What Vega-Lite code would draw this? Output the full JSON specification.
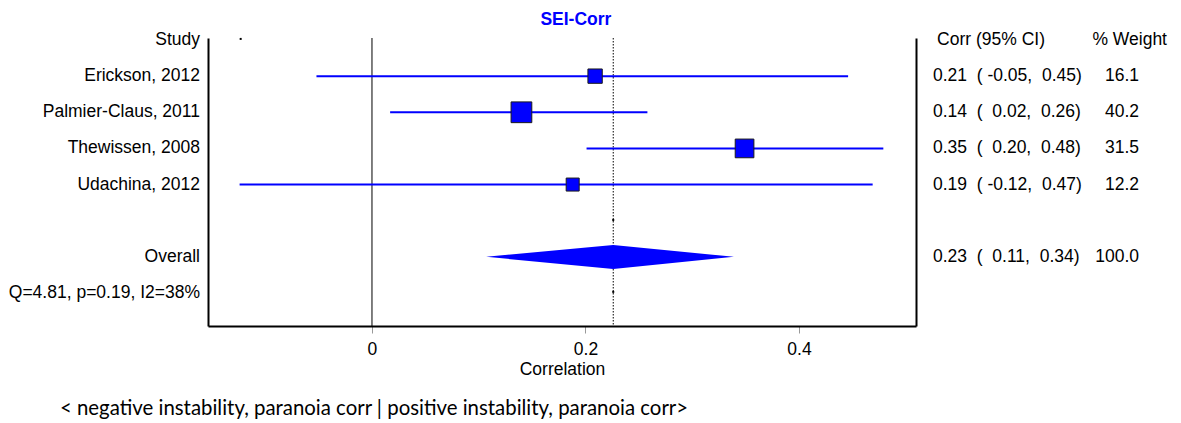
{
  "$schema": "https://vega.github.io/schema/vega-lite/v6.json",
  "width": 708,
  "height": 288,
  "autosize": {"type": "none"},
  "padding": {"left": 208, "top": 38, "right": 265, "bottom": 97},
  "background": "white",
  "config": {
    "view": {"stroke": null},
    "text": {"font": "Liberation Sans", "fontSize": 17.5, "color": "black"},
    "axis": {"labelFont": "Liberation Sans", "titleFont": "Liberation Sans"}
  },
  "datasets": {
    "studies": [
      {"row": 1, "study": "Erickson, 2012", "lo": -0.052, "est": 0.209, "hi": 0.446, "weight": 16.1},
      {"row": 2, "study": "Palmier-Claus, 2011", "lo": 0.017, "est": 0.140, "hi": 0.258, "weight": 40.2},
      {"row": 3, "study": "Thewissen, 2008", "lo": 0.201, "est": 0.349, "hi": 0.479, "weight": 31.5},
      {"row": 4, "study": "Udachina, 2012", "lo": -0.124, "est": 0.188, "hi": 0.469, "weight": 12.2}
    ],
    "labels": [
      {"row": 0, "left": "Study", "ci": "", "wt": ""},
      {"row": 1, "left": "Erickson, 2012", "ci": "0.21\u00a0\u00a0(\u00a0-0.05,\u00a0\u00a00.45)", "wt": "16.1"},
      {"row": 2, "left": "Palmier-Claus, 2011", "ci": "0.14\u00a0\u00a0(\u00a0\u00a00.02,\u00a0\u00a00.26)", "wt": "40.2"},
      {"row": 3, "left": "Thewissen, 2008", "ci": "0.35\u00a0\u00a0(\u00a0\u00a00.20,\u00a0\u00a00.48)", "wt": "31.5"},
      {"row": 4, "left": "Udachina, 2012", "ci": "0.19\u00a0\u00a0(\u00a0-0.12,\u00a0\u00a00.47)", "wt": "12.2"},
      {"row": 6, "left": "Overall", "ci": "0.23\u00a0\u00a0(\u00a0\u00a00.11,\u00a0\u00a00.34)", "wt": "100.0"},
      {"row": 7, "left": "Q=4.81, p=0.19, I2=38%", "ci": "", "wt": ""}
    ],
    "header": [
      {"row": 0, "ci": "Corr (95% CI)", "wt": "% Weight"}
    ],
    "diamond": [
      {"x": 0.107, "top": 6, "bottom": 6},
      {"x": 0.226, "top": 5.672, "bottom": 6.336},
      {"x": 0.339, "top": 6, "bottom": 6}
    ],
    "refs": [{"x": 0}],
    "overall": [{"x": 0.226}],
    "dots": [
      {"x": -0.123, "row": -0.03},
      {"x": 0.226, "row": 4.98},
      {"x": 0.226, "row": 6.97}
    ],
    "title": [{"row": -0.553, "text": "SEI-Corr"}],
    "note": [{"row": 10.21, "text": "< negative instability, paranoia corr | positive instability, paranoia corr>"}]
  },
  "resolve": {"axis": {"x": "independent", "y": "independent"}},
  "layer": [
    {
      "data": {"name": "refs"},
      "mark": {"type": "rule", "color": "black", "strokeWidth": 1},
      "encoding": {
        "x": {"field": "x", "type": "quantitative", "axis": null, "scale": {"domain": [-0.1536, 0.5096], "nice": false, "zero": false}}
      }
    },
    {
      "data": {"name": "overall"},
      "mark": {"type": "rule", "color": "black", "strokeWidth": 1, "strokeDash": [1.5, 1.5]},
      "encoding": {
        "x": {"field": "x", "type": "quantitative", "axis": null, "scale": {"domain": [-0.1536, 0.5096], "nice": false, "zero": false}}
      }
    },
    {
      "data": {"name": "studies"},
      "mark": {"type": "rule", "color": "#0000ff", "strokeWidth": 2},
      "encoding": {
        "x": {
          "field": "lo", "type": "quantitative",
          "scale": {"domain": [-0.1536, 0.5096], "nice": false, "zero": false},
          "axis": {
            "orient": "bottom", "values": [0, 0.2, 0.4], "format": "~g", "grid": false,
            "domainColor": "black", "domainWidth": 2,
            "tickColor": "#999999", "tickSize": 7, "tickWidth": 1,
            "labelFontSize": 17.5, "labelColor": "black", "labelBaseline": "alphabetic", "labelPadding": 21, "labelFlush": false,
            "title": "Correlation", "titleFontSize": 17.5, "titleFontWeight": "normal", "titleColor": "black",
            "titleBaseline": "alphabetic", "titleY": 48
          }
        },
        "x2": {"field": "hi"},
        "y": {
          "field": "row", "type": "quantitative",
          "scale": {"domain": [-0.0553, 7.914], "reverse": true, "nice": false, "zero": false},
          "axis": {"orient": "left", "domain": true, "domainColor": "black", "domainWidth": 2, "ticks": false, "labels": false, "grid": false, "title": null}
        }
      }
    },
    {
      "data": {"name": "studies"},
      "mark": {"type": "point", "shape": "square", "filled": true, "fill": "#0000ff", "stroke": "#1a1a1a", "strokeWidth": 1, "opacity": 1, "fillOpacity": 1, "strokeOpacity": 1},
      "encoding": {
        "x": {"field": "est", "type": "quantitative", "axis": null, "scale": {"domain": [-0.1536, 0.5096], "nice": false, "zero": false}},
        "y": {
          "field": "row", "type": "quantitative",
          "scale": {"domain": [-0.0553, 7.914], "reverse": true, "nice": false, "zero": false},
          "axis": {"orient": "right", "domain": true, "domainColor": "black", "domainWidth": 2, "ticks": false, "labels": false, "grid": false, "title": null}
        },
        "size": {"field": "weight", "type": "quantitative", "legend": null, "scale": {"domain": [12.2, 40.2], "range": [169, 430], "zero": false}}
      }
    },
    {
      "data": {"name": "diamond"},
      "mark": {"type": "area", "color": "#0000ff", "opacity": 1, "orient": "vertical"},
      "encoding": {
        "x": {"field": "x", "type": "quantitative", "axis": null, "scale": {"domain": [-0.1536, 0.5096], "nice": false, "zero": false}},
        "y": {"field": "top", "type": "quantitative", "axis": null, "scale": {"domain": [-0.0553, 7.914], "reverse": true, "nice": false, "zero": false}},
        "y2": {"field": "bottom"}
      }
    },
    {
      "data": {"name": "dots"},
      "mark": {"type": "point", "shape": "square", "filled": true, "color": "black", "size": 4, "opacity": 1},
      "encoding": {
        "x": {"field": "x", "type": "quantitative", "axis": null, "scale": {"domain": [-0.1536, 0.5096], "nice": false, "zero": false}},
        "y": {"field": "row", "type": "quantitative", "axis": null, "scale": {"domain": [-0.0553, 7.914], "reverse": true, "nice": false, "zero": false}}
      }
    },
    {
      "data": {"name": "labels"},
      "mark": {"type": "text", "align": "right", "baseline": "middle"},
      "encoding": {
        "x": {"datum": -0.1611, "type": "quantitative", "axis": null, "scale": {"domain": [-0.1536, 0.5096], "nice": false, "zero": false}},
        "y": {"field": "row", "type": "quantitative", "axis": null, "scale": {"domain": [-0.0553, 7.914], "reverse": true, "nice": false, "zero": false}},
        "text": {"field": "left"}
      }
    },
    {
      "data": {"name": "labels"},
      "mark": {"type": "text", "align": "left", "baseline": "middle"},
      "encoding": {
        "x": {"datum": 0.5255, "type": "quantitative", "axis": null, "scale": {"domain": [-0.1536, 0.5096], "nice": false, "zero": false}},
        "y": {"field": "row", "type": "quantitative", "axis": null, "scale": {"domain": [-0.0553, 7.914], "reverse": true, "nice": false, "zero": false}},
        "text": {"field": "ci"}
      }
    },
    {
      "data": {"name": "labels"},
      "mark": {"type": "text", "align": "right", "baseline": "middle"},
      "encoding": {
        "x": {"datum": 0.7185, "type": "quantitative", "axis": null, "scale": {"domain": [-0.1536, 0.5096], "nice": false, "zero": false}},
        "y": {"field": "row", "type": "quantitative", "axis": null, "scale": {"domain": [-0.0553, 7.914], "reverse": true, "nice": false, "zero": false}},
        "text": {"field": "wt"}
      }
    },
    {
      "data": {"name": "header"},
      "mark": {"type": "text", "align": "left", "baseline": "middle"},
      "encoding": {
        "x": {"datum": 0.5293, "type": "quantitative", "axis": null, "scale": {"domain": [-0.1536, 0.5096], "nice": false, "zero": false}},
        "y": {"field": "row", "type": "quantitative", "axis": null, "scale": {"domain": [-0.0553, 7.914], "reverse": true, "nice": false, "zero": false}},
        "text": {"field": "ci"}
      }
    },
    {
      "data": {"name": "header"},
      "mark": {"type": "text", "align": "right", "baseline": "middle"},
      "encoding": {
        "x": {"datum": 0.7447, "type": "quantitative", "axis": null, "scale": {"domain": [-0.1536, 0.5096], "nice": false, "zero": false}},
        "y": {"field": "row", "type": "quantitative", "axis": null, "scale": {"domain": [-0.0553, 7.914], "reverse": true, "nice": false, "zero": false}},
        "text": {"field": "wt"}
      }
    },
    {
      "data": {"name": "title"},
      "mark": {"type": "text", "align": "center", "baseline": "middle", "fontWeight": "bold", "color": "#0000ff"},
      "encoding": {
        "x": {"datum": 0.191, "type": "quantitative", "axis": null, "scale": {"domain": [-0.1536, 0.5096], "nice": false, "zero": false}},
        "y": {"field": "row", "type": "quantitative", "axis": null, "scale": {"domain": [-0.0553, 7.914], "reverse": true, "nice": false, "zero": false}},
        "text": {"field": "text"}
      }
    },
    {
      "data": {"name": "note"},
      "mark": {"type": "text", "align": "left", "baseline": "middle", "font": "Lato", "fontSize": 20.4},
      "encoding": {
        "x": {"datum": -0.2923, "type": "quantitative", "axis": null, "scale": {"domain": [-0.1536, 0.5096], "nice": false, "zero": false}},
        "y": {"field": "row", "type": "quantitative", "axis": null, "scale": {"domain": [-0.0553, 7.914], "reverse": true, "nice": false, "zero": false}},
        "text": {"field": "text"}
      }
    }
  ]
}
